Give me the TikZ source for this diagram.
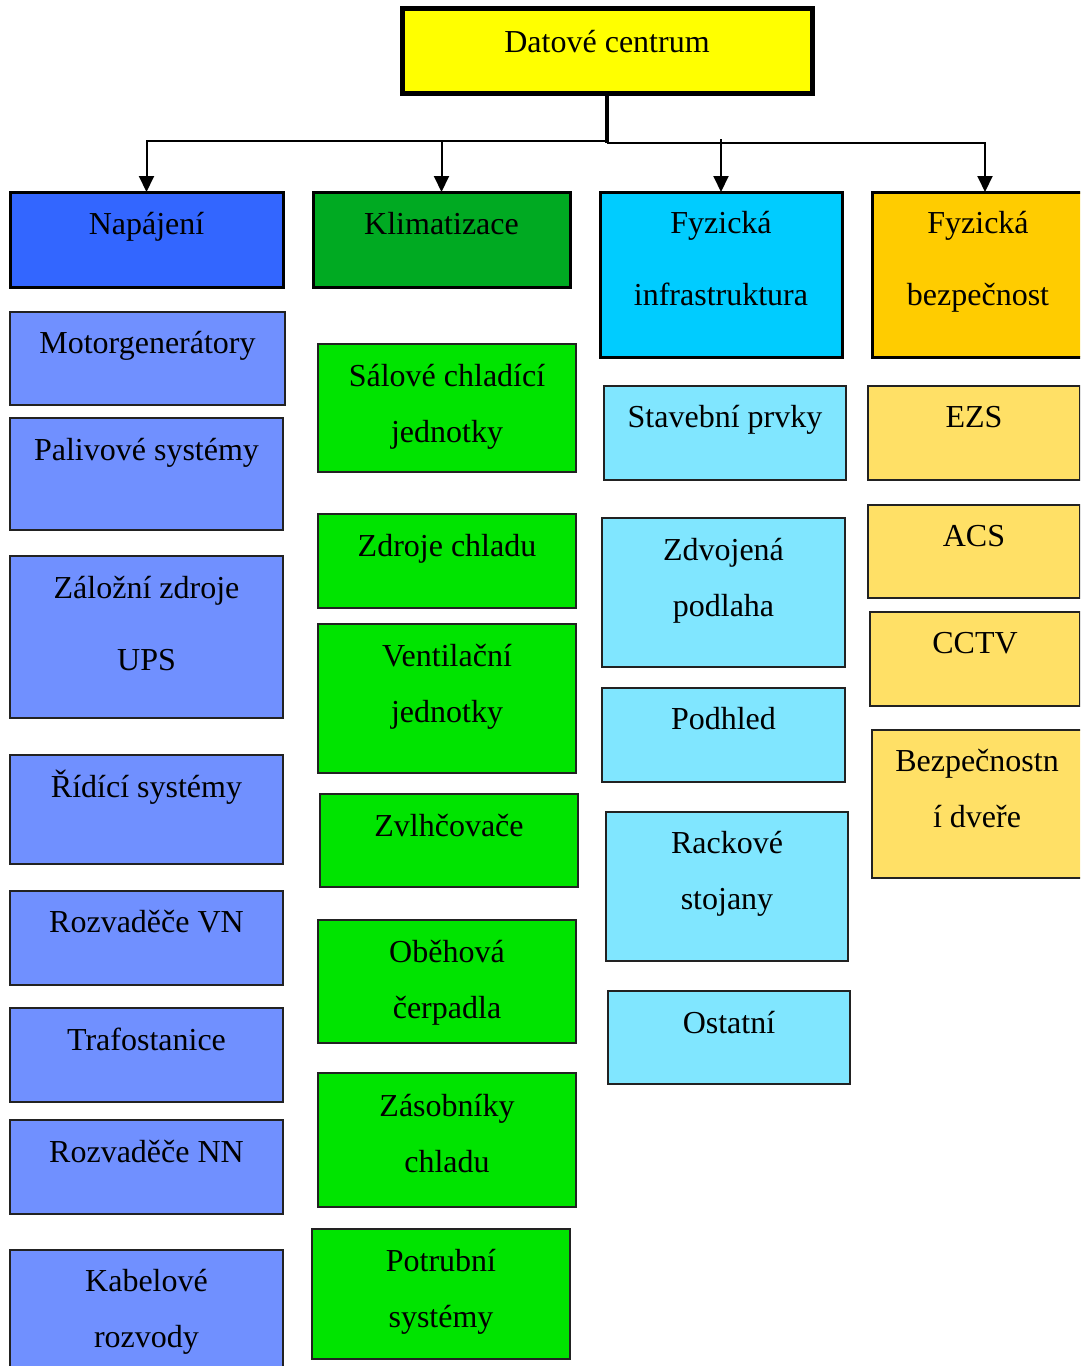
\documentclass[tikz,border=0pt]{standalone}
\usepackage{fontspec}
\setmainfont{LiberationSerif}[Extension=.ttf, UprightFont=*-Regular, BoldFont=*-Bold]
\usetikzlibrary{arrows.meta}

\definecolor{dcyellow}{HTML}{FFFF00}
\definecolor{napblue}{HTML}{3366FF}
\definecolor{klimgreen}{HTML}{00AA22}
\definecolor{fyzcyan}{HTML}{00CCFF}
\definecolor{bezorange}{HTML}{FFCC00}
\definecolor{subblue}{HTML}{7090FF}
\definecolor{subgreen}{HTML}{00E400}
\definecolor{subcyan}{HTML}{80E6FF}
\definecolor{subyellow}{HTML}{FFE066}
\definecolor{edge}{HTML}{222222}

% box: name, style, x1, y1, x2, y2 (top-left origin, one unit per point)
\newcommand{\blok}[6]{%
  \node[#2, anchor=north west, minimum width={#5-#3}, minimum height={#6-#4}] (#1) at (#3,#4) {};}
% one text line: box, tag, baseline offset below the box top, text
\newcommand{\tline}[4]{%
  \node[txt, anchor=base] (#1-#2) at ([yshift=-#3pt]#1.north) {#4};}

\begin{document}
\begin{tikzpicture}[x=1pt, y=-1pt,
  every node/.style={inner sep=0pt, outer sep=0pt},
  txt/.style={font=\rmfamily\fontsize{32}{36}\selectfont},
  rootbox/.style={draw=black, line width=5pt, fill=dcyellow},
  catbox/.style={draw=black, line width=3pt},
  subbox/.style={draw=edge, line width=2pt},
  bus/.style={line width=2pt, -{Triangle[width=15pt,length=16pt]}},
  trunk/.style={line width=3.5pt}]

\useasboundingbox (0,0) rectangle (1080,1366);
\clip (0,0) rectangle (1080,1366);

% root and categories
\blok{dc}{rootbox}{402}{8}{812}{93}
\tline{dc}{a}{44}{Datové centrum}

\blok{nap}{catbox, fill=napblue}{10}{192}{283}{287}
\tline{nap}{a}{42}{Napájení}
\blok{klim}{catbox, fill=klimgreen}{313}{192}{570}{287}
\tline{klim}{a}{42}{Klimatizace}
\blok{fyz}{catbox, fill=fyzcyan}{600}{192}{842}{357}
\tline{fyz}{a}{41}{Fyzická}
\tline{fyz}{b}{113}{infrastruktura}
\blok{bez}{catbox, fill=bezorange}{872}{192}{1084}{357}
\tline{bez}{a}{41}{Fyzická}
\tline{bez}{b}{113}{bezpečnost}

% connectors
\coordinate (jl) at (dc.south |- 0,141);
\coordinate (jr) at (dc.south |- 0,143);
\draw[trunk] (dc.south) -- (jr);
\draw[bus] (jl) -| (nap.north);
\draw[bus] (jr) -| ([xshift=7pt]bez.north);
\draw[bus] (klim.north |- jl) -- (klim.north);
\draw[bus] ([yshift=2pt]fyz.north |- jl) -- (fyz.north);

% power
\blok{mg}{subbox, fill=subblue}{10}{312}{285}{405}
\tline{mg}{a}{41}{Motorgenerátory}
\blok{pal}{subbox, fill=subblue}{10}{418}{283}{530}
\tline{pal}{a}{42}{Palivové systémy}
\blok{ups}{subbox, fill=subblue}{10}{556}{283}{718}
\tline{ups}{a}{42}{Záložní zdroje}
\tline{ups}{b}{114}{UPS}
\blok{rid}{subbox, fill=subblue}{10}{755}{283}{864}
\tline{rid}{a}{42}{Řídící systémy}
\blok{vn}{subbox, fill=subblue}{10}{891}{283}{985}
\tline{vn}{a}{41}{Rozvaděče VN}
\blok{tra}{subbox, fill=subblue}{10}{1008}{283}{1102}
\tline{tra}{a}{42}{Trafostanice}
\blok{nn}{subbox, fill=subblue}{10}{1120}{283}{1214}
\tline{nn}{a}{42}{Rozvaděče NN}
\blok{kab}{subbox, fill=subblue}{10}{1250}{283}{1380}
\tline{kab}{a}{41}{Kabelové}
\tline{kab}{b}{97}{rozvody}

% cooling
\blok{sal}{subbox, fill=subgreen}{318}{344}{576}{472}
\tline{sal}{a}{42}{Sálové chladící}
\tline{sal}{b}{98}{jednotky}
\blok{zch}{subbox, fill=subgreen}{318}{514}{576}{608}
\tline{zch}{a}{42}{Zdroje chladu}
\blok{ven}{subbox, fill=subgreen}{318}{624}{576}{773}
\tline{ven}{a}{42}{Ventilační}
\tline{ven}{b}{98}{jednotky}
\blok{zvl}{subbox, fill=subgreen}{320}{794}{578}{887}
\tline{zvl}{a}{42}{Zvlhčovače}
\blok{obe}{subbox, fill=subgreen}{318}{920}{576}{1043}
\tline{obe}{a}{42}{Oběhová}
\tline{obe}{b}{98}{čerpadla}
\blok{zas}{subbox, fill=subgreen}{318}{1073}{576}{1207}
\tline{zas}{a}{43}{Zásobníky}
\tline{zas}{b}{99}{chladu}
\blok{pot}{subbox, fill=subgreen}{312}{1229}{570}{1359}
\tline{pot}{a}{42}{Potrubní}
\tline{pot}{b}{98}{systémy}

% physical infrastructure
\blok{sta}{subbox, fill=subcyan}{604}{386}{846}{480}
\tline{sta}{a}{41}{Stavební prvky}
\blok{zdv}{subbox, fill=subcyan}{602}{518}{845}{667}
\tline{zdv}{a}{42}{Zdvojená}
\tline{zdv}{b}{98}{podlaha}
\blok{pod}{subbox, fill=subcyan}{602}{688}{845}{782}
\tline{pod}{a}{41}{Podhled}
\blok{rac}{subbox, fill=subcyan}{606}{812}{848}{961}
\tline{rac}{a}{41}{Rackové}
\tline{rac}{b}{97}{stojany}
\blok{ost}{subbox, fill=subcyan}{608}{991}{850}{1084}
\tline{ost}{a}{42}{Ostatní}

% physical security
\blok{ezs}{subbox, fill=subyellow}{868}{386}{1080}{480}
\tline{ezs}{a}{41}{EZS}
\blok{acs}{subbox, fill=subyellow}{868}{505}{1080}{598}
\tline{acs}{a}{41}{ACS}
\blok{cct}{subbox, fill=subyellow}{870}{612}{1080}{706}
\tline{cct}{a}{41}{CCTV}
\blok{dve}{subbox, fill=subyellow}{872}{730}{1082}{878}
\tline{dve}{a}{41}{Bezpečnostn}
\tline{dve}{b}{97}{í dveře}

\end{tikzpicture}
\end{document}
